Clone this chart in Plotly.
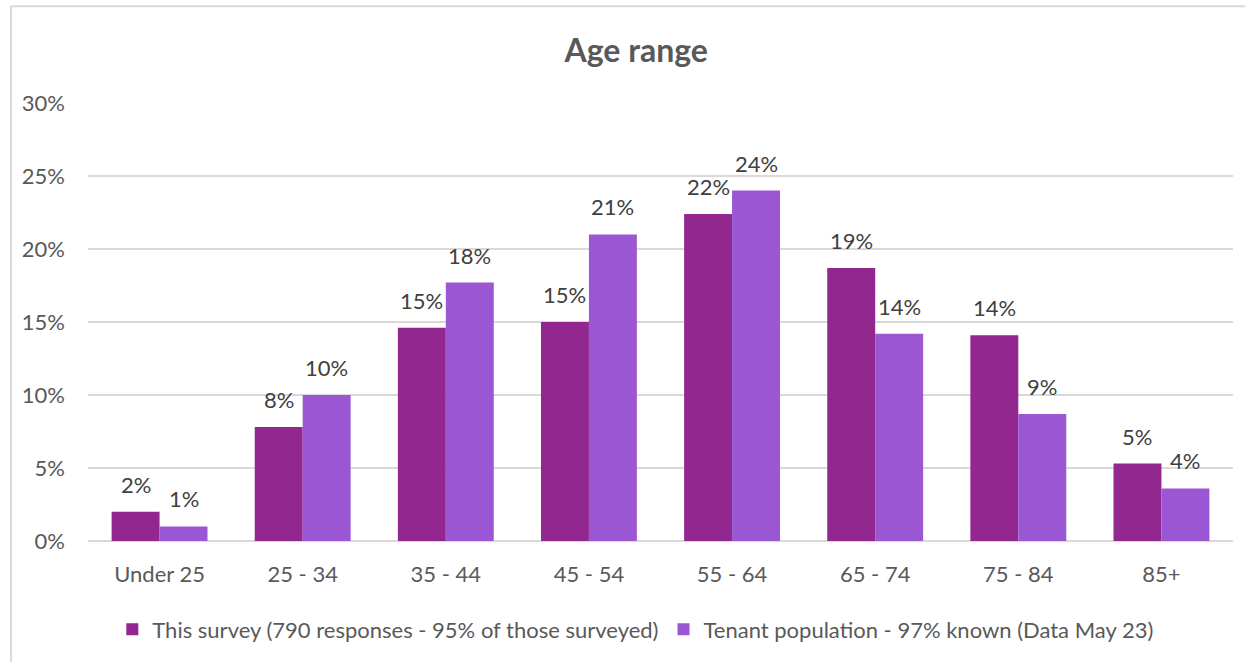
import plotly.graph_objects as go

# Age bands and shares (fractions) for each series
age_bands = ["Under 25", "25 - 34", "35 - 44", "45 - 54", "55 - 64", "65 - 74", "75 - 84", "85+"]
survey_share = [0.020, 0.078, 0.146, 0.150, 0.224, 0.187, 0.141, 0.053]
tenant_share = [0.010, 0.100, 0.177, 0.210, 0.240, 0.142, 0.087, 0.036]
survey_name = "This survey (790 responses - 95% of those surveyed)"
tenant_name = "Tenant population - 97% known (Data May 23)"
y_ticks = [0.0, 0.05, 0.10, 0.15, 0.20, 0.25, 0.30]

FONT = "Lato"
GREY = "#595959"
LABEL_GREY = "#404040"
SURVEY_COLOR = "#92278F"
TENANT_COLOR = "#9B57D3"
BORDER = "#D9D9D9"

fig = go.Figure()
fig.add_trace(go.Bar(x=age_bands, y=survey_share, name=survey_name,
                     marker=dict(color=SURVEY_COLOR, line=dict(width=0))))
fig.add_trace(go.Bar(x=age_bands, y=tenant_share, name=tenant_name,
                     marker=dict(color=TENANT_COLOR, line=dict(width=0))))

# Value labels above each bar, offset to the bar's side of the group
for values, dx in ((survey_share, -24), (tenant_share, 24)):
    for band, v in zip(age_bands, values):
        fig.add_annotation(x=band, y=v, xref="x", yref="y", text=f"{v:.0%}",
                           showarrow=False, xanchor="center", yanchor="bottom",
                           xshift=dx, yshift=12,
                           font=dict(family=FONT, size=22, color=LABEL_GREY))

fig.update_layout(
    width=1245, height=662,
    margin=dict(l=88, r=12, t=103, b=119),
    paper_bgcolor="white", plot_bgcolor="white",
    barmode="group", bargap=0.33, bargroupgap=0,
    font=dict(family=FONT, color=GREY, size=22),
    title=dict(text="<b>Age range</b>", x=0.511, xanchor="center", y=0.924, yanchor="middle",
               font=dict(family=FONT, size=32, color=GREY)),
    legend=dict(orientation="h", x=0.478, xanchor="center", y=-0.202, yanchor="middle",
                font=dict(family=FONT, size=22, color=GREY), traceorder="normal",
                itemwidth=30),
    showlegend=True,
)
fig.update_yaxes(
    range=[0, 0.30], tickvals=y_ticks, tickformat=".0%",
    showgrid=True, gridcolor=BORDER, gridwidth=1.5,
    zeroline=True, zerolinecolor=BORDER, zerolinewidth=1.5,
    showline=False, ticks="", ticklabelstandoff=22,
    tickfont=dict(family=FONT, size=22, color=GREY),
)
fig.update_xaxes(
    showline=False, ticks="", ticklabelstandoff=18,
    tickfont=dict(family=FONT, size=22, color=GREY),
)

# Light chart-area border (left and top edges fall inside the page)
fig.add_shape(type="line", xref="paper", yref="paper",
              x0=-0.0672, x1=-0.0672, y0=-0.40, y1=1.221,
              line=dict(color=BORDER, width=2), layer="below")
fig.add_shape(type="line", xref="paper", yref="paper",
              x0=-0.0672, x1=1.1, y0=1.221, y1=1.221,
              line=dict(color=BORDER, width=2), layer="below")

fig.write_html("out.html")
